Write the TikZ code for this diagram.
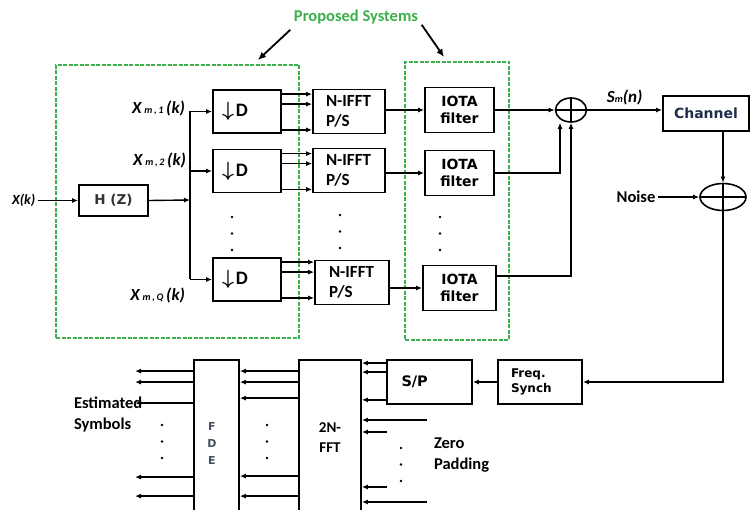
\documentclass[tikz,border=0pt]{standalone}
\usepackage{amsmath}
\usepackage{fontspec}
\setmainfont{Carlito}
\newfontfamily\tahfont{DejaVu Sans}
\usepackage{tikz}
\usetikzlibrary{shapes,arrows,arrows.meta}

\definecolor{propgreen}{RGB}{60,176,74}
\definecolor{chanblue}{RGB}{30,45,75}
\definecolor{fdegray}{RGB}{70,80,95}

\newcommand{\dnarrow}{{\fontsize{22}{22}\selectfont$\boldsymbol{\downarrow}$}\kern2pt}
\newcommand{\idx}[1]{{\fontsize{10}{10}\selectfont #1}}

\begin{document}
\begin{tikzpicture}[x=1pt, y=-1pt, line width=1.4pt, >={Latex[length=6pt,width=5pt]}]
        % Define block styles
        \tikzstyle{block} = [rectangle, draw, line width=1.8pt, inner sep=0pt]
        \tikzstyle{dblock} = [block, minimum width=68pt, minimum height=43pt,
            text width=50pt, align=left, font=\fontsize{19}{19}\selectfont\bfseries]
        \tikzstyle{ifft} = [block, minimum width=72pt, minimum height=44pt,
            text width=46pt, align=left, font=\fontsize{17}{20}\selectfont\bfseries]
        \tikzstyle{iota} = [block, minimum width=69pt, minimum height=45pt,
            align=center, font=\tahfont\fontsize{14}{17}\selectfont\bfseries]
        \tikzstyle{tall} = [block, minimum height=155pt]
        \tikzstyle{summer} = [ellipse, draw, line width=1.6pt, inner sep=0pt,
            path picture={\draw[line width=1.4pt]
                (path picture bounding box.north) -- (path picture bounding box.south)
                (path picture bounding box.west) -- (path picture bounding box.east);}]
        \tikzstyle{sysbox} = [rectangle, draw=propgreen, line width=1.8pt, dash pattern=on 4pt off 1.5pt]
        \tikzstyle{lbl} = [font=\fontsize{16.5}{21}\selectfont\bfseries]
        \tikzstyle{sig} = [font=\fontsize{17}{17}\selectfont\bfseries\itshape]
        \tikzstyle{line} = [draw, ->]

        \useasboundingbox (0,0) rectangle (752,510);
        \clip (0,0) rectangle (752,510);

        % Nodes
        \node [sysbox, minimum width=243pt, minimum height=273pt] (sys1) at (177.5,201.5) {};
        \node [sysbox, minimum width=104pt, minimum height=278pt] (sys2) at (457,201) {};
        \node [font=\fontsize{16.5}{16.5}\selectfont\bfseries, text=propgreen, inner sep=0pt] (prop) at (356,17) {Proposed Systems};
        \coordinate (tip1) at (258,60);
        \coordinate (tip2) at (444,57);

        \node [sig, font=\fontsize{14}{14}\selectfont\bfseries\itshape, anchor=east, inner sep=2pt] (xk) at (38,200) {X(k)};
        \node [block, minimum width=69pt, minimum height=31pt, text=black!80,
            font=\tahfont\fontsize{13.5}{13.5}\selectfont\bfseries] (hz) at (113.5,200.5) {H (Z)};
        \coordinate (bus) at (190,200);

        \node [dblock] (d1) at (247,111.5) {\dnarrow D};
        \node [dblock] (d2) at (247,171) {\dnarrow D};
        \node [dblock] (d3) at (247,279.5) {\dnarrow D};
        \node [sig, anchor=east] (xm1) at (189,108) {X\,\idx{m\,,\,1}\,(k)};
        \node [sig, anchor=east] (xm2) at (190,160) {X\,\idx{m\,,\,2}\,(k)};
        \node [sig, anchor=east] (xm3) at (189,295) {X\,\idx{m\,,\,Q}\,(k)};

        \node [ifft] (n1) at (349,111.5) {N-IFFT\\P/S};
        \node [ifft] (n2) at (349,170.5) {N-IFFT\\P/S};
        \node [ifft, minimum width=74pt] (n3) at (352,282.5) {N-IFFT\\P/S};

        \node [iota] (f1) at (459.5,110) {IOTA\\filter};
        \node [iota] (f2) at (459.5,173) {IOTA\\filter};
        \node [iota, minimum width=73pt] (f3) at (459.5,288) {IOTA\\filter};

        \node [summer, minimum width=31pt, minimum height=24pt] (add1) at (571,110) {};
        \node [block, minimum width=86pt, minimum height=35pt, text=chanblue,
            font=\tahfont\fontsize{14}{14}\selectfont\bfseries] (chan) at (706,113.5) {Channel};
        \node [summer, minimum width=46pt, minimum height=27pt] (add2) at (723,197) {};
        \node [lbl, inner sep=2pt] (noise) at (636,197) {Noise};

        \node [block, minimum width=84pt, minimum height=44pt, text width=58pt, align=left,
            font=\tahfont\fontsize{12}{15}\selectfont\bfseries] (freq) at (540,382) {Freq.\\Synch};
        \node [block, minimum width=85pt, minimum height=44pt, text width=56pt, align=left,
            font=\tahfont\fontsize{14.5}{14.5}\selectfont\bfseries] (sp) at (429.5,382) {S/P};
        \node [tall, minimum width=62pt, align=center, font=\fontsize{15}{20}\selectfont\bfseries] (fft) at (330,437.5) {2N-\\FFT};
        \node [tall, minimum width=45pt] (fde) at (216.5,437.5) {};
        \node [font=\tahfont\fontsize{11}{17}\selectfont\bfseries, text=fdegray, align=center] (fdetext) at (212,443) {F\\D\\E};
        \node [lbl, anchor=west, align=left] (est) at (70,414) {Estimated\\Symbols};
        \node [lbl, anchor=west, align=left] (zero) at (430,455) {Zero\\Padding};
        \coordinate (out) at (135,400);
        \coordinate (z1) at (427,420);
        \coordinate (z2) at (387,432);
        \coordinate (z3) at (387,487);
        \coordinate (z4) at (427,502);

        % Dots
        \foreach \x/\y in {232/217, 340/215, 440/217, 162/425, 267/425, 401/448}
            \foreach \k in {0,1,2}
                \fill ({\x},{\y+\k*16.5}) circle (1.4pt);

        % Arrows
        \draw [->, line width=1.8pt, >={Latex[length=8pt,width=7pt]}] ([shift={(-3pt,-5pt)}]prop.south west) -- (tip1);
        \draw [->, line width=1.8pt, >={Latex[length=8pt,width=7pt]}] ([shift={(3pt,0pt)}]prop.south east) -- (tip2);
        \path [line] (xk.east |- hz.west) -- (hz.west);
        \path [line] (hz.east) -- (bus);
        \draw (bus |- d1.west) -- (bus |- d3.west);
        \foreach \i in {1,2,3} {
            \path [line] (bus |- d\i.west) -- (d\i.west);
            \foreach \s in {5,15}
                \path [line] ([yshift=-\s pt]d\i.north east) -- ([yshift=-\s pt]d\i.north east -| n\i.west);
            \path [line] ([yshift=4pt]d\i.south east) -- ([yshift=4pt]d\i.south east -| n\i.west);
            \path [line] (n\i.east |- f\i.west) -- (f\i.west);
        }
        \path [line] (f1.east) -- (add1.west);
        \path [line] (f2.east) -| ([xshift=-11pt]add1.south);
        \path [line] ([yshift=12pt]f3.east) -| (add1.south);
        \path [line] (add1.east) -- node[sig, above, yshift=1pt] {S\idx{m}(n)} (add1.east -| chan.west);
        \path [line] (add2.north |- chan.south) -- (add2.north);
        \path [line] (noise.east) -- (add2.west);
        \path [line] (add2.south) |- (freq.east);
        \path [line] (freq.west) -- (sp.east);
        \foreach \s in {4,13}
            \path [line] ([yshift=-\s pt]sp.north west) -- ([yshift=-\s pt]sp.north west -| fft.east);
        \path [line] ([yshift=5pt]sp.south west) -- ([yshift=5pt]sp.south west -| fft.east);
        \foreach \z in {z1,z2,z3,z4}
            \path [line] (\z) -- (\z -| fft.east);
        \foreach \s in {12,23,39,117,137}
            \path [line] ([yshift=-\s pt]fft.north west) -- ([yshift=-\s pt]fft.north west -| fde.east);
        \foreach \s in {12,23,44,118,137}
            \path [line] ([yshift=-\s pt]fde.north west) -- ([yshift=-\s pt]fde.north west -| out);
    \end{tikzpicture}
\end{document}
